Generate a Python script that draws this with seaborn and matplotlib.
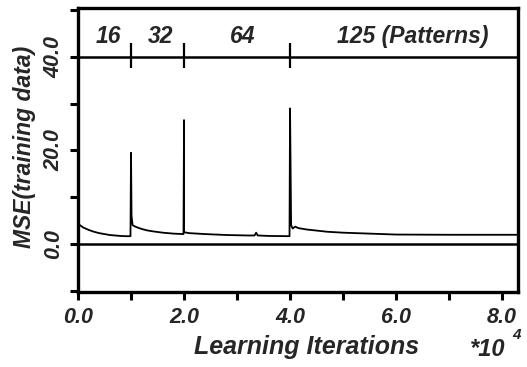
import matplotlib
matplotlib.use("Agg")
import matplotlib.pyplot as plt
import seaborn as sns

# ---- data ----
iterations = [0.0, 0.05, 0.1, 0.2, 0.3, 0.4, 0.5, 0.6, 0.7, 0.8, 0.9, 0.99,
              1.0, 1.01, 1.03, 1.1, 1.2, 1.3, 1.4, 1.6, 1.8, 1.99,
              2.0, 2.0, 2.1, 2.4, 2.8, 3.2, 3.33, 3.36, 3.39, 3.6, 3.99,
              4.0, 4.02, 4.05, 4.1, 4.15, 4.3, 4.7, 5.0, 5.5, 6.0, 7.0, 8.3]
mse = [4.3, 3.9, 3.5, 3.0, 2.6, 2.3, 2.1, 1.9, 1.8, 1.7, 1.65, 1.65,
       19.5, 6.0, 4.0, 3.6, 3.2, 2.9, 2.7, 2.4, 2.2, 2.1,
       26.5, 2.5, 2.3, 2.1, 1.9, 1.8, 1.8, 2.4, 1.8, 1.7, 1.65,
       29.0, 4.0, 3.3, 3.7, 3.4, 3.1, 2.6, 2.4, 2.2, 2.0, 1.95, 1.95]
switch_points = [1.0, 2.0, 4.0]
pattern_labels = ["16", "32", "64", "125 (Patterns)"]
pattern_label_x = [0.58, 1.55, 3.1, 6.32]
x_ticks = [0, 1, 2, 3, 4, 5, 6, 7, 8]
x_ticklabels = ["0.0", "", "2.0", "", "4.0", "", "6.0", "", "8.0"]
y_ticks = [-10, 0, 10, 20, 30, 40, 50]
y_ticklabels = ["", "0.0", "", "20.0", "", "40.0", ""]

sns.set_style("ticks")
plt.rcParams["font.family"] = ["Liberation Sans", "DejaVu Sans"]
plt.rcParams["font.weight"] = "bold"
plt.rcParams["font.style"] = "italic"

fig = plt.figure(figsize=(5.27, 3.67), dpi=100)
ax = fig.add_axes([78 / 527, 1 - 292 / 367, 440 / 527, 284 / 367])

sns.lineplot(x=iterations, y=mse, sort=False, estimator=None, color="black",
             linewidth=1.3, ax=ax)

ax.axhline(0, color="black", linewidth=1.8, zorder=1)
ax.axhline(40, color="black", linewidth=1.8, zorder=1)
ax.vlines(switch_points, 37.6, 43.0, color="black", linewidth=1.6)
for lab, xp in zip(pattern_labels, pattern_label_x):
    ax.text(xp, 44.4, lab, ha="center", va="center", fontsize=16.5,
            fontweight="bold", fontstyle="italic")

ax.set_xlim(0, 8.3)
ax.set_ylim(-10.3, 50.5)
ax.set_xticks(x_ticks)
ax.set_xticklabels(x_ticklabels, fontsize=15.5, fontweight="bold", fontstyle="italic")
ax.set_yticks(y_ticks)
ax.set_yticklabels(y_ticklabels, fontsize=15.5, fontweight="bold", fontstyle="italic",
                   rotation=90, va="center")
ax.tick_params(axis="both", direction="out", length=6, width=2.2, color="black")
ax.tick_params(axis="x", pad=5)
ax.tick_params(axis="y", pad=4)

for s in ax.spines.values():
    s.set_visible(True)
    s.set_linewidth(2.4)
    s.set_color("black")

fig.text(307 / 527, 1 - 347 / 367, "Learning Iterations", fontsize=18,
         fontweight="bold", fontstyle="italic", ha="center", va="center")
fig.text(25 / 527, 1 - 147 / 367, "MSE(training data)", fontsize=16.5,
         fontweight="bold", fontstyle="italic", ha="center", va="center",
         rotation=90)
fig.text(470 / 527, 1 - 349 / 367, "*10", fontsize=17, fontweight="bold",
         fontstyle="italic", ha="left", va="center")
fig.text(512 / 527, 1 - 335 / 367, "4", fontsize=11, fontweight="bold",
         fontstyle="italic", ha="left", va="center")

fig.savefig("out.png", dpi=100)
